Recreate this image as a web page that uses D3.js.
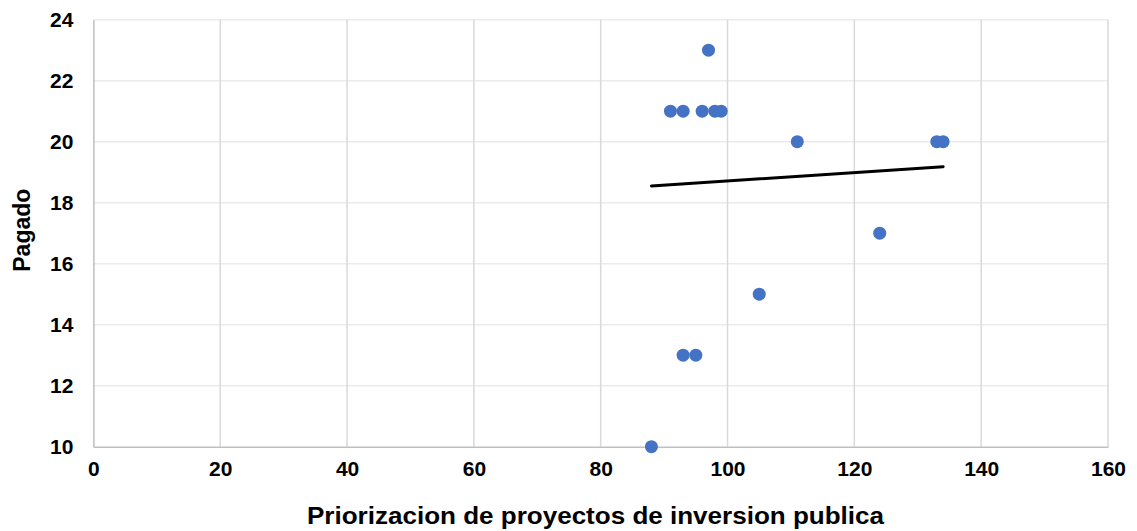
<!DOCTYPE html>
<html><head><meta charset="utf-8">
<script src="https://cdn.jsdelivr.net/npm/d3@7"></script>
<style>body{margin:0;background:#fff}svg{display:block;font-family:"Liberation Sans",Arial,sans-serif}</style>
</head><body>
<svg id="c" width="1137" height="531"></svg>
<script>
const xValues = [88, 93, 95, 105, 124, 111, 133, 134, 91, 93, 96, 98, 99, 97];
const yValues = [10, 13, 13, 15, 17, 20, 20, 20, 21, 21, 21, 21, 21, 23];
const trendX = [88, 134];
const trendY = [18.55, 19.18];
const xTicks = [0, 20, 40, 60, 80, 100, 120, 140, 160];
const yTicks = [10, 12, 14, 16, 18, 20, 22, 24];
const xTitle = "Priorizacion de proyectos de inversion publica";
const yTitle = "Pagado";

const svg = d3.select("#c");
const L = 93.4, R = 1108, T = 19.7, B = 446.7;
const x = d3.scaleLinear().domain([0, 160]).range([L, R]);
const y = d3.scaleLinear().domain([10, 24]).range([B, T]);

// gridlines
svg.append("g").selectAll("line").data(yTicks.filter(d => d > 10)).join("line")
  .attr("x1", L).attr("x2", R).attr("y1", d => y(d)).attr("y2", d => y(d))
  .attr("stroke", "#ebebeb").attr("stroke-width", 1.5);
svg.append("g").selectAll("line").data(xTicks.filter(d => d > 0)).join("line")
  .attr("x1", d => x(d)).attr("x2", d => x(d)).attr("y1", T).attr("y2", B)
  .attr("stroke", "#d9d9d9").attr("stroke-width", 1.5);

// axes
const xa = svg.append("g").attr("transform", `translate(0,${B})`)
  .call(d3.axisBottom(x).tickValues(xTicks).tickSize(0).tickPadding(14));
const ya = svg.append("g").attr("transform", `translate(${L},0)`)
  .call(d3.axisLeft(y).tickValues(yTicks).tickSize(0).tickPadding(20));
[xa, ya].forEach(a => {
  a.select(".domain").attr("stroke", "#bfbfbf").attr("stroke-width", 1.5);
  a.selectAll("text").attr("font-size", 21).attr("font-weight", "bold")
    .attr("fill", "#000").attr("font-family", "Liberation Sans, Arial, sans-serif");
});

// trendline
svg.append("line")
  .attr("x1", x(trendX[0])).attr("y1", y(trendY[0]))
  .attr("x2", x(trendX[1])).attr("y2", y(trendY[1]))
  .attr("stroke", "#000").attr("stroke-width", 3).attr("stroke-linecap", "round");

// points
svg.append("g").selectAll("circle").data(xValues.map((v, i) => [v, yValues[i]])).join("circle")
  .attr("cx", d => x(d[0])).attr("cy", d => y(d[1])).attr("r", 6.5)
  .attr("fill", "#4472C4");

// titles
svg.append("text").attr("x", 307).attr("y", 524)
  .attr("font-size", 23).attr("font-weight", "bold")
  .attr("textLength", 577).attr("lengthAdjust", "spacingAndGlyphs")
  .text(xTitle);
svg.append("text").attr("transform", `translate(29.5,${(T + B) / 2 - 3}) rotate(-90)`)
  .attr("text-anchor", "middle").attr("font-size", 23).attr("font-weight", "bold")
  .text(yTitle);
</script>
</body></html>
